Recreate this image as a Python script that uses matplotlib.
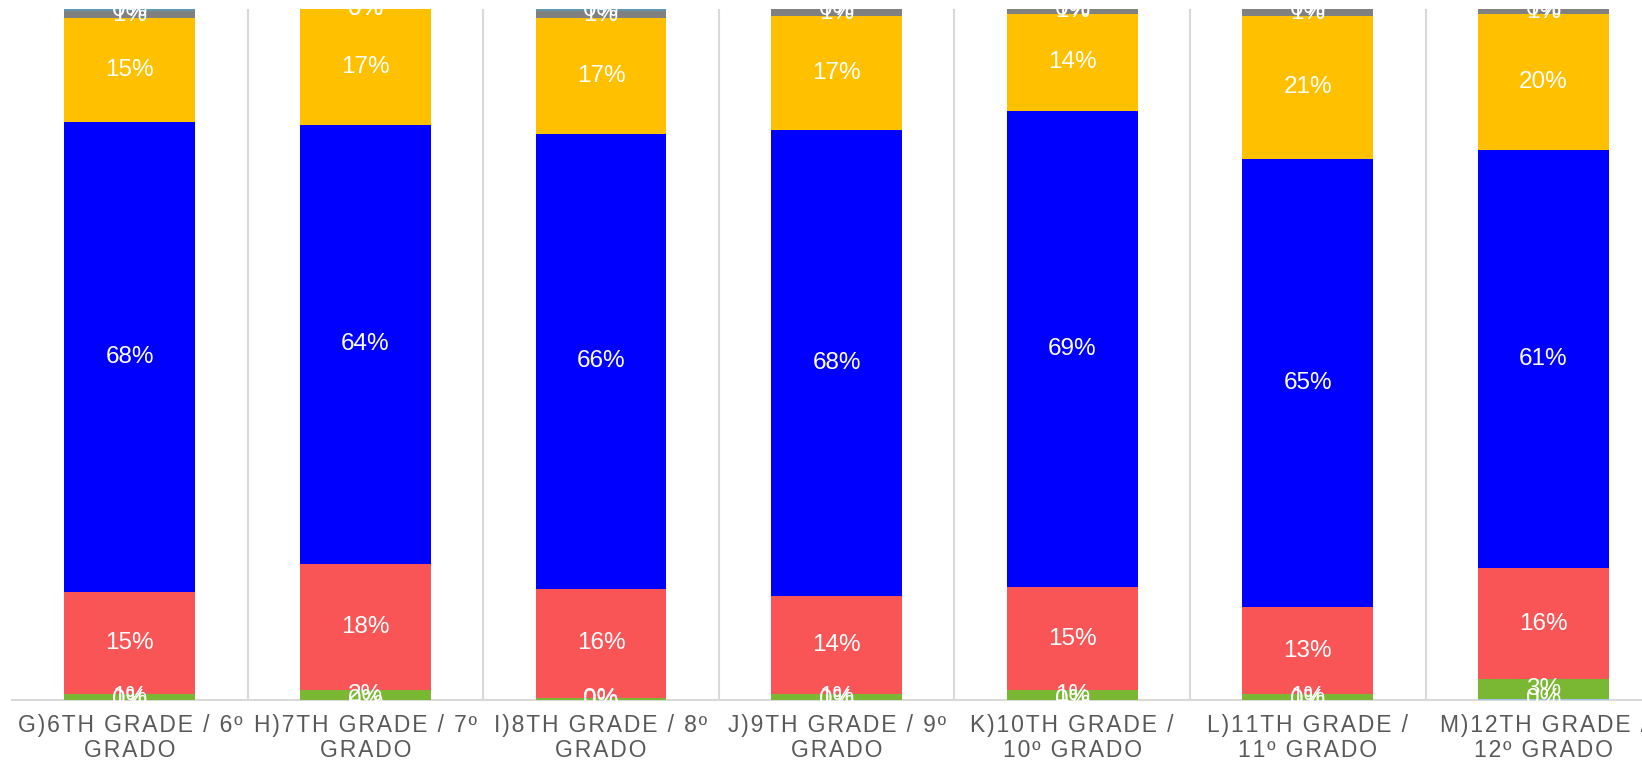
import numpy as np
import matplotlib.pyplot as plt

plt.rcParams['font.family'] = ['Liberation Sans', 'DejaVu Sans']

# Categorías (grados)
grades = ['G)6TH GRADE / 6º\nGRADO', 'H)7TH GRADE / 7º\nGRADO', 'I)8TH GRADE / 8º\nGRADO',
          'J)9TH GRADE / 9º\nGRADO', 'K)10TH GRADE /\n10º GRADO', 'L)11TH GRADE /\n11º GRADO',
          'M)12TH GRADE /\n12º GRADO']

# Porcentajes por serie (de abajo hacia arriba)
s_light = [0.0, 0.0, 0.0, 0.0, 0.0, 0.0, 0.2]
s_green = [0.9, 1.5, 0.3, 0.9, 1.4, 0.8, 2.8]
s_red = [14.8, 18.2, 15.8, 14.1, 15.0, 12.7, 16.1]
s_blue = [68.0, 63.6, 65.9, 67.5, 68.9, 64.9, 60.6]
s_yellow = [15.0, 16.7, 16.8, 16.6, 14.1, 20.7, 19.6]
s_grey = [1.0, 0.0, 0.9, 0.9, 0.6, 0.9, 0.7]
s_teal = [0.3, 0.0, 0.3, 0.0, 0.0, 0.0, 0.0]

series = [s_light, s_green, s_red, s_blue, s_yellow, s_grey, s_teal]
colors = ['#9DC3E6', '#7AB834', '#F95556', '#0000FF', '#FFC000', '#808080', '#5E97AE']

fig = plt.figure(figsize=(16.42, 7.62), dpi=100)
ax = fig.add_axes([12 / 1642, 1 - 700 / 762, 7 * 235.6 / 1642, (700 - 9.4) / 762])

x = np.arange(len(grades))
bottom = np.zeros(len(grades))
for vals, col in zip(series, colors):
    vals = np.array(vals)
    ax.bar(x, vals, 0.556, bottom=bottom, color=col, zorder=3)
    for xi, b, v in zip(x, bottom, vals):
        ax.text(xi, b + v / 2, f'{v:.0f}%', ha='center', va='center',
                color='white', fontsize=17.5, zorder=4)
    bottom += vals

ax.set_xlim(-0.5, len(grades) - 0.5)
ax.set_ylim(0, 100)

# separadores verticales
for b in np.arange(0.5, len(grades) - 0.5, 1):
    ax.axvline(b, color='#D9D9D9', lw=1.5, zorder=1)

for s in ['top', 'right', 'left']:
    ax.spines[s].set_visible(False)
ax.spines['bottom'].set_color('#D9D9D9')
ax.spines['bottom'].set_linewidth(1.5)
ax.set_yticks([])
ax.set_xticks(x)
spaced = ['\u200a'.join(g).replace('\u200a\n\u200a', '\n') for g in grades]
ax.set_xticklabels(spaced, fontsize=16.5, color='#595959', linespacing=1.12)
ax.tick_params(axis='x', length=0, pad=10)

fig.savefig('out.png', dpi=100)
